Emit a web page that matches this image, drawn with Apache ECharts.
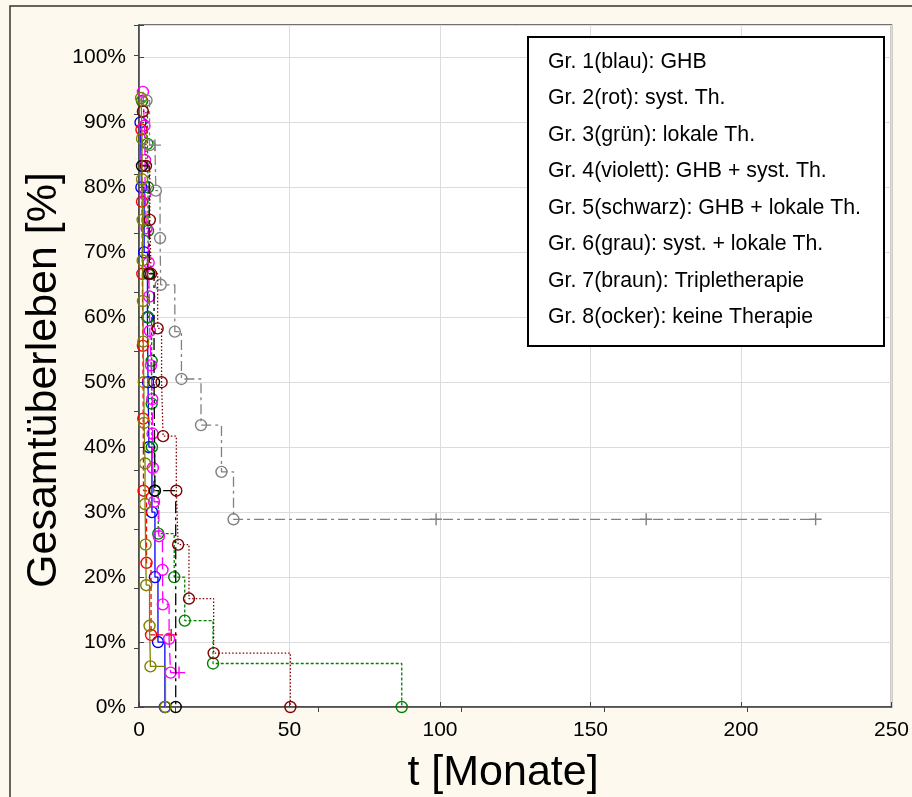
<!DOCTYPE html>
<html><head><meta charset="utf-8">
<script src="https://cdn.jsdelivr.net/npm/echarts@6/dist/echarts.min.js"></script>
<style>html,body{margin:0;padding:0;background:#fdf9ee}#c{width:912px;height:797px}</style>
</head><body><div id="c"></div><script>
// Kaplan-Meier data: [time (months), survival (%), censored flag]
const gr1Blau = [[0.5,90,0],[0.8,80,0],[1.7,70,0],[2.8,60,0],[3.0,50,0],[3.3,40,0],[4.3,30,0],[5.3,20,0],[6.3,10,0],[8.6,0,0]];
const gr2Rot = [[0.8,88.9,0],[1.0,77.8,0],[1.1,66.7,0],[1.3,55.6,0],[1.4,44.4,0],[1.5,33.3,0],[2.5,22.2,0],[4.0,11.1,0],[10.7,11.1,1]];
const gr3Gruen = [[1.0,93.3,0],[2.8,86.7,0],[3.0,80,0],[3.0,73.3,0],[3.0,66.7,0],[3.1,60,0],[4.2,53.3,0],[4.2,46.7,0],[4.3,40,0],[5.2,33.3,0],[6.4,26.7,0],[11.7,20,0],[15.2,13.3,0],[24.6,6.7,0],[87.3,0,0]];
const gr4Violett = [[1.3,94.7,0],[1.8,89.5,0],[2.0,84.2,0],[2.0,78.9,0],[2.5,73.7,0],[3.2,68.4,0],[3.4,63.2,0],[3.6,57.9,0],[4.0,52.6,0],[4.4,47.4,0],[4.5,42.1,0],[4.6,36.8,0],[5.0,31.6,0],[6.6,26.3,0],[7.8,21.1,0],[7.9,15.8,0],[10.0,10.5,0],[10.5,5.3,0],[13.3,5.3,1]];
const gr5Schwarz = [[1.0,83.3,0],[3.4,66.7,0],[5.0,50,0],[5.3,33.3,0],[12.2,0,0]];
const gr6Grau = [[2.5,93.4,0],[3.5,86.5,0],[5.3,86.5,1],[5.6,79.5,0],[7.0,72.2,0],[7.2,65,0],[11.9,57.8,0],[14.1,50.5,0],[20.6,43.4,0],[27.4,36.2,0],[31.4,28.9,0],[98.7,28.9,1],[168.5,28.9,1],[224.8,28.9,1]];
const gr7Braun = [[1.3,91.7,0],[2.3,83.3,0],[3.6,75,0],[4.0,66.7,0],[6.2,58.3,0],[7.5,50,0],[8.0,41.7,0],[12.4,33.3,0],[13.0,25,0],[16.6,16.7,0],[24.8,8.3,0],[50.3,0,0]];
const gr8Ocker = [[0.7,93.75,0],[1.0,87.5,0],[1.0,81.25,0],[1.2,75,0],[1.2,68.75,0],[1.3,62.5,0],[1.4,56.25,0],[1.6,50,0],[1.7,43.75,0],[2.0,37.5,0],[2.0,31.25,0],[2.2,25,0],[2.4,18.75,0],[3.5,12.5,0],[3.8,6.25,0],[8.8,0,0]];

const legendLabels = [
  'Gr. 1(blau): GHB',
  'Gr. 2(rot): syst. Th.',
  'Gr. 3(grün): lokale Th.',
  'Gr. 4(violett): GHB + syst. Th.',
  'Gr. 5(schwarz): GHB + lokale Th.',
  'Gr. 6(grau): syst. + lokale Th.',
  'Gr. 7(braun): Tripletherapie',
  'Gr. 8(ocker): keine Therapie'
];
const topTickValues = [11.9, 59.4, 107.0, 154.6, 202.2];

const groups = [
  {d: gr1Blau, c: '#0000ff', t: 'solid'},
  {d: gr2Rot, c: '#ff0000', t: [5,3]},
  {d: gr3Gruen, c: '#008000', t: [3,2]},
  {d: gr4Violett, c: '#ff00ff', t: [12,5]},
  {d: gr5Schwarz, c: '#000000', t: [12,4,3,4]},
  {d: gr6Grau, c: '#808080', t: [10,4,3,4]},
  {d: gr7Braun, c: '#800000', t: [1.5,2]},
  {d: gr8Ocker, c: '#808000', t: 'solid'}
];
const plusPath = 'path://M0,5L10,5M5,0L5,10';

const series = groups.map((g, gi) => ({
  type: 'line',
  name: legendLabels[gi],
  step: 'end',
  showAllSymbol: true,
  data: g.d.map(p => ({
    value: [p[0], p[1]],
    symbol: p[2] ? plusPath : 'circle',
    symbolSize: p[2] ? 12 : 11
  })),
  lineStyle: {color: g.c, width: 1.3, type: g.t},
  itemStyle: {color: 'rgba(0,0,0,0)', borderColor: g.c, borderWidth: 1.4},
  emphasis: {disabled: true},
  z: 2 + gi
}));

const font = '"Liberation Sans", Arial, sans-serif';
const legendY0 = 62, legendStep = 36.5;

const graphic = [
  {type: 'polyline', shape: {points: [[10, 797], [10, 6], [912, 6]]}, style: {stroke: '#333', lineWidth: 1.5, fill: 'none'}, z: 10},
  {type: 'text', x: 44, y: 380, rotation: Math.PI / 2, style: {text: 'Gesamtüberleben [%]', font: '43px ' + font, fill: '#000', align: 'center', verticalAlign: 'middle'}, z: 10},
  {type: 'text', x: 503, y: 773, style: {text: 't [Monate]', font: '43px ' + font, fill: '#000', align: 'center', verticalAlign: 'middle'}, z: 10},
  {type: 'rect', shape: {x: 528, y: 37, width: 356, height: 309}, style: {fill: '#fff', stroke: '#000', lineWidth: 2}, z: 20}
].concat(legendLabels.map((t, i) => ({
  type: 'text', x: 548, y: legendY0 + legendStep * i,
  style: {text: t, font: '21.3px ' + font, fill: '#000', align: 'left', verticalAlign: 'middle'}, z: 21
})));

const option = {
  backgroundColor: '#fdf9ee',
  animation: false,
  grid: {left: 139, top: 25, right: 18, bottom: 90, show: true, backgroundColor: '#ffffff', borderColor: '#444', borderWidth: 1.5},
  xAxis: [
    {type: 'value', min: 0, max: 250, interval: 50,
     axisLine: {show: true, onZero: false, lineStyle: {color: '#444', width: 1.5}},
     axisTick: {show: true, inside: true, length: 5, lineStyle: {color: '#444'}},
     axisLabel: {color: '#000', fontSize: 21, fontFamily: font, margin: 13},
     splitLine: {show: true, lineStyle: {color: '#dcdcdc', width: 1}}},
    {type: 'value', position: 'top', min: 0, max: 250,
     axisLine: {show: false},
     axisTick: {show: true, inside: true, length: 5, customValues: topTickValues, lineStyle: {color: '#444'}},
     axisLabel: {show: false}, splitLine: {show: false}}
  ],
  yAxis: [
    {type: 'value', min: 0, max: 105, interval: 10,
     axisLine: {show: true, onZero: false, lineStyle: {color: '#444', width: 1.5}},
     axisTick: {show: true, inside: true, length: 5, lineStyle: {color: '#444'}},
     axisLabel: {color: '#000', fontSize: 21, fontFamily: font, margin: 13, formatter: v => (v <= 100 && v % 10 === 0) ? v + '%' : ''},
     splitLine: {show: true, lineStyle: {color: '#dcdcdc', width: 1}}},
    {type: 'value', position: 'right', min: 0, max: 105, interval: 9.12,
     axisLine: {show: false},
     axisTick: {show: true, inside: true, length: 5, lineStyle: {color: '#444'}},
     axisLabel: {show: false}, splitLine: {show: false}}
  ],
  graphic: graphic,
  series: series
};
const chart = echarts.init(document.getElementById('c'), null, {renderer: 'canvas'});
chart.setOption(option);
</script></body></html>
